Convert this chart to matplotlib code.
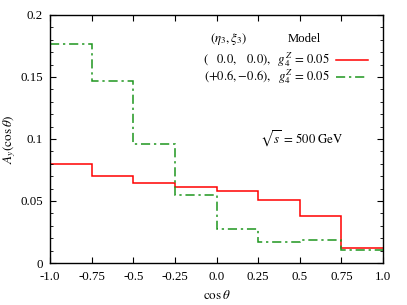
import numpy as np
import matplotlib
matplotlib.use("Agg")
import matplotlib.pyplot as plt
from matplotlib.ticker import MultipleLocator

plt.rcParams["font.family"] = ["Liberation Serif", "DejaVu Serif"]
plt.rcParams["mathtext.fontset"] = "stix"

# ------------------ DATA ------------------

bin_edges = [-1.0, -0.75, -0.5, -0.25, 0.0, 0.25, 0.5, 0.75, 1.0]
sm_vals = [0.0797, 0.0698, 0.0642, 0.0612, 0.0580, 0.0505, 0.0381, 0.0118]
pol_vals = [0.1769, 0.1468, 0.0958, 0.0550, 0.0277, 0.0166, 0.0185, 0.0102]

x_ticks = [-1.0, -0.75, -0.5, -0.25, 0.0, 0.25, 0.5, 0.75, 1.0]
x_labels = ["-1.0", "-0.75", "-0.5", "-0.25", "0.0", "0.25", "0.5", "0.75", "1.0"]
y_ticks = [0, 0.05, 0.1, 0.15, 0.2]
y_labels = ["0", "0.05", "0.1", "0.15", "0.2"]

# ------------------ CHART ------------------

fig = plt.figure(figsize=(4.07, 3.05), dpi=100)
ax = fig.add_axes([0.1229, 0.1377, 0.8181, 0.8133])

green = "#1e961e"
dashdot = (0, (6, 2.5, 1.5, 2.5))

ax.stairs(sm_vals, bin_edges, color="#ff0000", lw=1.1, baseline=None)
ax.stairs(pol_vals, bin_edges, color=green, lw=1.1, baseline=None,
          linestyle=dashdot)

ax.set_xlim(-1, 1)
ax.set_ylim(0, 0.2)
ax.set_xticks(x_ticks)
ax.set_xticklabels(x_labels)
ax.set_yticks(y_ticks)
ax.set_yticklabels(y_labels)
ax.yaxis.set_minor_locator(MultipleLocator(0.01))
ax.tick_params(which="both", direction="in", top=True, right=True,
               labelsize=9.3)
ax.tick_params(axis="x", pad=6)
ax.tick_params(axis="y", pad=5)
ax.tick_params(which="major", length=4)
ax.tick_params(which="minor", length=2.5)
for s in ax.spines.values():
    s.set_linewidth(1.0)

ax.set_xlabel(r"$\cos\theta$", fontsize=9.5, labelpad=4)
ax.set_ylabel(r"$A_y(\cos\theta)$", fontsize=9.5, labelpad=2)

# legend drawn by hand in axes coordinates
fs = 9.2
ax.text(0.535, 0.905, r"$(\eta_3,\xi_3)$", transform=ax.transAxes,
        fontsize=fs, ha="center", va="center")
ax.text(0.765, 0.905, "Model", transform=ax.transAxes,
        fontsize=fs, ha="center", va="center")
ax.text(0.84, 0.82, r"$(\ \ \ 0.0,\ \ \ 0.0),\ \ g_4^Z \,=\, 0.05$",
        transform=ax.transAxes, fontsize=fs, ha="right", va="center")
ax.text(0.84, 0.75, r"$(+0.6,{-}0.6),\ \ g_4^Z \,=\, 0.05$",
        transform=ax.transAxes, fontsize=fs, ha="right", va="center")
ax.plot([0.86, 0.955], [0.82, 0.82], transform=ax.transAxes,
        color="#ff0000", lw=1.1)
ax.plot([0.86, 0.955], [0.75, 0.75], transform=ax.transAxes,
        color=green, lw=1.1, linestyle=dashdot)

ax.text(0.63, 0.50, r"$\sqrt{s}\,=\,500\ \mathrm{GeV}$", transform=ax.transAxes,
        fontsize=fs, ha="left", va="center")

fig.savefig("out.png", dpi=100)
plt.close(fig)
